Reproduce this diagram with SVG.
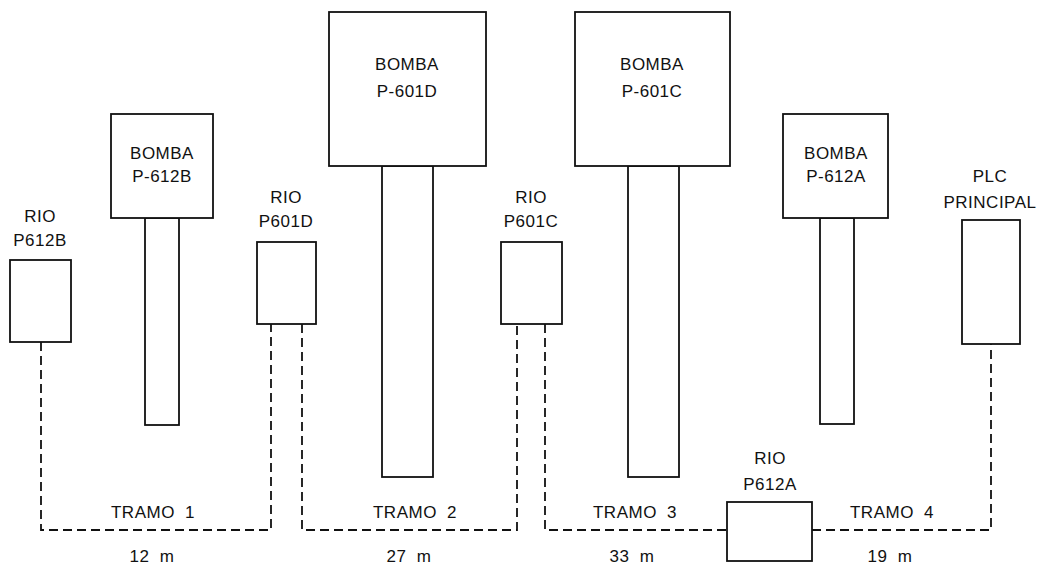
<svg xmlns="http://www.w3.org/2000/svg" width="1040" height="565" viewBox="0 0 1040 565">
<style>
.box{fill:#fff;stroke:#111;stroke-width:1.8}
.t{font-family:"Liberation Sans",Arial,sans-serif;font-size:17px;fill:#111;text-anchor:middle;letter-spacing:0.5px}
.dash{fill:none;stroke:#111;stroke-width:1.8;stroke-dasharray:9 5}
.lab{word-spacing:5px}
</style>
<rect width="1040" height="565" fill="#fff"/>
<g id="connectors">
<path class="dash" d="M41,342 V530 H271 V324"/>
<path class="dash" d="M302,324 V530 H517 V324"/>
<path class="dash" d="M545,324 V530 H727"/>
<path class="dash" d="M812,530 H991 V344"/>
</g>
<g id="rio-p612b">
<rect class="box" x="10" y="260" width="61" height="82"/>
<text class="t" x="40" y="222">RIO</text>
<text class="t" x="40" y="246">P612B</text>
</g>
<g id="bomba-p612b">
<rect class="box" x="145" y="218" width="34" height="207"/>
<rect class="box" x="111" y="114" width="102" height="104"/>
<text class="t" x="162" y="159">BOMBA</text>
<text class="t" x="162" y="182">P-612B</text>
</g>
<g id="rio-p601d">
<rect class="box" x="257" y="242" width="59" height="82"/>
<text class="t" x="286" y="203">RIO</text>
<text class="t" x="286" y="227">P601D</text>
</g>
<g id="bomba-p601d">
<rect class="box" x="382" y="166" width="51" height="311"/>
<rect class="box" x="329" y="12" width="157" height="154"/>
<text class="t" x="407" y="70">BOMBA</text>
<text class="t" x="407" y="97">P-601D</text>
</g>
<g id="rio-p601c">
<rect class="box" x="501" y="242" width="61" height="82"/>
<text class="t" x="531" y="203">RIO</text>
<text class="t" x="531" y="227">P601C</text>
</g>
<g id="bomba-p601c">
<rect class="box" x="628" y="166" width="51" height="311"/>
<rect class="box" x="575" y="12" width="155" height="154"/>
<text class="t" x="652" y="70">BOMBA</text>
<text class="t" x="652" y="97">P-601C</text>
</g>
<g id="bomba-p612a">
<rect class="box" x="820" y="218" width="34" height="206"/>
<rect class="box" x="783" y="114" width="105" height="104"/>
<text class="t" x="836" y="159">BOMBA</text>
<text class="t" x="836" y="182">P-612A</text>
</g>
<g id="plc-principal">
<rect class="box" x="962" y="220" width="58" height="124"/>
<text class="t" x="990" y="182">PLC</text>
<text class="t" x="990" y="208">PRINCIPAL</text>
</g>
<g id="rio-p612a">
<rect class="box" x="727" y="502" width="85" height="59"/>
<text class="t" x="770" y="464">RIO</text>
<text class="t" x="770" y="490">P612A</text>
</g>
<g id="labels">
<text class="t lab" x="153" y="518">TRAMO 1</text>
<text class="t lab" x="152" y="562">12 m</text>
<text class="t lab" x="415" y="518">TRAMO 2</text>
<text class="t lab" x="409" y="562">27 m</text>
<text class="t lab" x="635" y="518">TRAMO 3</text>
<text class="t lab" x="632" y="562">33 m</text>
<text class="t lab" x="892" y="518">TRAMO 4</text>
<text class="t lab" x="890" y="562">19 m</text>
</g>
</svg>
